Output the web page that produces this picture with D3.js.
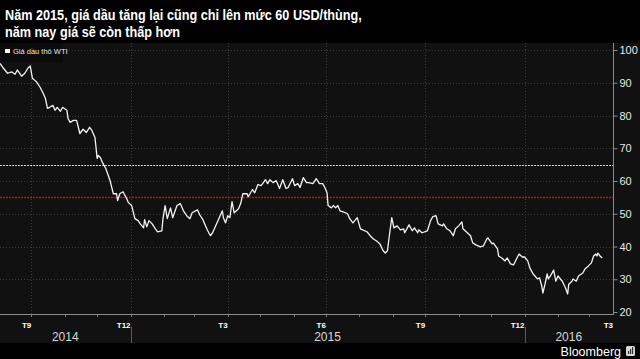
<!DOCTYPE html>
<html>
<head>
<meta charset="utf-8">
<script src="https://cdn.jsdelivr.net/npm/d3@7"></script>
<style>
    html, body { margin: 0; padding: 0; background: #000; }
    svg { display: block; }
    text { font-family: "Liberation Sans", Arial, sans-serif; }
</style>
</head>
<body>
<div id="chart"></div>
<script>
var titleLines = [
    'Năm 2015, giá dầu tăng lại cũng chỉ lên mức 60 USD/thùng,',
    'năm nay giá sẽ còn thấp hơn'
];
var legendLabel = 'Giá dầu thô WTI';
var quarterLabels = ['T9', 'T12', 'T3', 'T6', 'T9', 'T12', 'T3'];
var yearLabels = ['2014', '2015', '2016'];
var yTicks = [20, 30, 40, 50, 60, 70, 80, 90, 100];
var refLevels = [65, 55];

var dates = [
    '2014-09-02', '2014-09-05', '2014-09-09', '2014-09-13', '2014-09-16', '2014-09-18', '2014-09-22', '2014-09-25', '2014-09-28', '2014-09-30',
    '2014-10-02', '2014-10-04', '2014-10-06', '2014-10-09', '2014-10-12', '2014-10-14', '2014-10-16', '2014-10-18', '2014-10-21', '2014-10-23', '2014-10-25', '2014-10-28', '2014-10-30',
    '2014-11-03', '2014-11-04', '2014-11-06', '2014-11-09', '2014-11-12', '2014-11-15', '2014-11-18', '2014-11-21', '2014-11-24', '2014-11-26', '2014-11-29',
    '2014-12-01', '2014-12-02', '2014-12-04', '2014-12-06', '2014-12-09', '2014-12-11', '2014-12-13', '2014-12-16', '2014-12-19', '2014-12-20', '2014-12-22', '2014-12-25', '2014-12-28', '2014-12-30',
    '2015-01-02', '2015-01-05', '2015-01-08', '2015-01-10', '2015-01-13', '2015-01-14', '2015-01-16', '2015-01-18', '2015-01-21', '2015-01-24', '2015-01-26', '2015-01-30', '2015-01-31',
    '2015-02-02', '2015-02-04', '2015-02-07', '2015-02-09', '2015-02-13', '2015-02-16', '2015-02-19', '2015-02-22', '2015-02-25', '2015-02-27',
    '2015-03-04', '2015-03-06', '2015-03-09', '2015-03-13', '2015-03-16', '2015-03-18', '2015-03-22', '2015-03-25', '2015-03-27', '2015-03-28', '2015-03-30',
    '2015-04-01', '2015-04-03', '2015-04-05', '2015-04-07', '2015-04-11', '2015-04-13', '2015-04-15', '2015-04-19', '2015-04-20', '2015-04-24', '2015-04-26', '2015-04-29',
    '2015-05-02', '2015-05-04', '2015-05-06', '2015-05-08', '2015-05-10', '2015-05-13', '2015-05-16', '2015-05-19', '2015-05-22', '2015-05-25', '2015-05-27', '2015-05-31',
    '2015-06-02', '2015-06-05', '2015-06-07', '2015-06-10', '2015-06-13', '2015-06-15', '2015-06-19', '2015-06-22', '2015-06-25', '2015-06-28', '2015-06-30',
    '2015-07-02', '2015-07-03', '2015-07-06', '2015-07-08', '2015-07-10', '2015-07-12', '2015-07-14', '2015-07-17', '2015-07-21', '2015-07-23', '2015-07-26', '2015-07-30',
    '2015-08-02', '2015-08-04', '2015-08-08', '2015-08-11', '2015-08-14', '2015-08-17', '2015-08-20', '2015-08-23', '2015-08-25', '2015-08-27', '2015-08-29', '2015-08-31',
    '2015-09-02', '2015-09-05', '2015-09-08', '2015-09-11', '2015-09-12', '2015-09-16', '2015-09-19', '2015-09-21', '2015-09-24', '2015-09-25', '2015-09-28',
    '2015-10-03', '2015-10-06', '2015-10-08', '2015-10-11', '2015-10-13', '2015-10-17', '2015-10-18', '2015-10-21', '2015-10-24', '2015-10-27', '2015-10-29',
    '2015-11-01', '2015-11-04', '2015-11-05', '2015-11-09', '2015-11-12', '2015-11-14', '2015-11-17', '2015-11-21', '2015-11-24', '2015-11-27', '2015-11-28',
    '2015-12-02', '2015-12-03', '2015-12-07', '2015-12-08', '2015-12-11', '2015-12-14', '2015-12-16', '2015-12-19', '2015-12-22', '2015-12-25', '2015-12-27', '2015-12-30',
    '2016-01-01', '2016-01-04', '2016-01-06', '2016-01-09', '2016-01-13', '2016-01-15', '2016-01-17', '2016-01-18', '2016-01-20', '2016-01-22', '2016-01-23', '2016-01-25', '2016-01-28', '2016-01-30',
    '2016-02-01', '2016-02-05', '2016-02-08', '2016-02-10', '2016-02-11', '2016-02-14', '2016-02-15', '2016-02-18', '2016-02-20', '2016-02-24', '2016-02-26', '2016-02-29',
    '2016-03-03', '2016-03-05', '2016-03-07', '2016-03-08', '2016-03-09', '2016-03-11', '2016-03-13'
];

var prices = [
    95.9, 94.5, 92.9, 93.3, 92.6, 93.9, 92.0, 92.9, 94.5, 95.1,
    91.4, 90.8, 90.2, 88.7, 86.8, 85.3, 82.2, 82.5, 83.1, 81.6, 82.5, 81.3, 82.5,
    81.6, 79.1, 77.9, 78.5, 78.5, 74.5, 75.8, 74.8, 76.4, 75.5, 73.3,
    66.9, 67.8, 67.2, 65.6, 63.8, 62.0, 60.1, 56.1, 56.1, 54.0, 56.1, 56.7, 54.9, 53.4,
    52.5, 48.5, 47.9, 46.9, 45.7, 48.2, 46.0, 47.9, 46.9, 45.4, 44.5, 44.8, 48.5,
    52.5, 48.5, 51.8, 48.8, 52.5, 53.1, 50.9, 49.4, 48.5, 50.3,
    51.2, 49.7, 48.2, 45.1, 43.3, 44.2, 47.2, 49.4, 50.9, 48.8, 47.2,
    49.4, 48.8, 53.7, 50.3, 51.5, 53.1, 56.1, 56.1, 55.2, 57.4, 56.4, 58.9,
    58.6, 59.5, 60.4, 59.2, 60.4, 59.5, 60.1, 57.7, 60.4, 57.7, 58.0, 60.7,
    58.6, 59.2, 58.0, 61.0, 59.5, 59.5, 59.2, 60.7, 59.2, 59.2, 58.0,
    56.4, 52.5, 51.8, 52.5, 51.8, 52.5, 50.9, 50.6, 50.0, 48.5, 47.2, 48.8,
    45.4, 45.1, 44.5, 43.3, 42.3, 41.7, 40.8, 38.7, 38.0, 38.7, 43.9, 48.8,
    45.7, 46.3, 45.1, 45.4, 44.2, 46.6, 44.8, 45.7, 44.2, 45.1, 44.2,
    44.8, 47.9, 49.1, 49.4, 46.9, 46.3, 46.9, 45.4, 44.8, 43.3, 45.4,
    46.3, 47.5, 45.4, 44.2, 43.3, 41.1, 40.5, 39.9, 40.2, 42.3, 42.6,
    40.8, 41.1, 39.3, 37.1, 36.5, 35.6, 36.5, 34.7, 34.4, 36.5, 37.7, 36.8,
    36.8, 35.6, 33.4, 31.6, 30.1, 30.4, 27.9, 25.8, 28.5, 31.6, 30.1, 31.0, 32.8, 29.4,
    31.0, 29.4, 27.3, 25.5, 28.5, 29.4, 30.1, 29.4, 31.0, 31.9, 33.1, 34.0,
    35.0, 37.1, 37.7, 37.1, 38.0, 37.1, 36.5
];


function OilChart() {
    this.config = {
        width: 640,
        height: 359,
        panel: { top: 43, bottom: 343 },
        plot: { left: 0, right: 613, top: 50, bottom: 312, axisY: 314 },
        colors: {
            panel: '#111111',
            grid: '#3d3d3d',
            axis: '#8a8a8a',
            line: '#f4f4f4',
            text: '#e8e8e8',
            refWhite: '#d4d4d4',
            refRed: '#b0141c'
        }
    };
    this.svg = null;
    this.x = null;
    this.y = null;
    this.series = [];
}

OilChart.prototype.init = function(element) {
    var c = this.config,
        parse = d3.timeParse('%Y-%m-%d');
    this.svg = d3.select(element).append('svg')
        .attr('width', c.width)
        .attr('height', c.height);
    this.x = d3.scaleTime()
        .domain([new Date(2014, 8, 2), new Date(2016, 2, 23)])
        .range([c.plot.left, c.plot.right]);
    this.y = d3.scaleLinear()
        .domain([20, 100])
        .range([c.plot.bottom, c.plot.top]);
    this.series = dates.map(function(d, i) {
        return { date: parse(d), value: prices[i] };
    });
};

OilChart.prototype.draw = function() {
    this.drawBackground();
    this.drawGrid();
    this.drawRefLines();
    this.drawLine();
    this.drawLegend();
    this.drawYAxis();
    this.drawXAxis();
    this.drawTitle();
    this.drawFooter();
};



// parts

OilChart.prototype.drawBackground = function() {
    var c = this.config;
    this.svg.append('rect')
        .attr('width', c.width).attr('height', c.height)
        .attr('fill', '#000');
    this.svg.append('rect')
        .attr('x', 0).attr('y', c.panel.top)
        .attr('width', c.width).attr('height', c.panel.bottom - c.panel.top)
        .attr('fill', c.colors.panel);
};

OilChart.prototype.drawGrid = function() {
    var self = this,
        c = this.config,
        g = this.svg.append('g').attr('class', 'grid');
    g.selectAll('.h').data(yTicks.slice(1)).enter().append('line')
        .attr('x1', c.plot.left).attr('x2', c.plot.right)
        .attr('y1', function(d) { return Math.round(self.y(d)) + 0.5; })
        .attr('y2', function(d) { return Math.round(self.y(d)) + 0.5; })
        .attr('stroke', c.colors.grid)
        .attr('stroke-dasharray', '1,2');
    g.selectAll('.v').data(this.x.ticks(d3.timeMonth.every(3))).enter().append('line')
        .attr('x1', function(d) { return Math.round(self.x(d)) + 0.5; })
        .attr('x2', function(d) { return Math.round(self.x(d)) + 0.5; })
        .attr('y1', c.panel.top).attr('y2', c.plot.axisY)
        .attr('stroke', c.colors.grid)
        .attr('stroke-dasharray', '1,2');
};

OilChart.prototype.drawRefLines = function() {
    var self = this,
        c = this.config,
        g = this.svg.append('g').attr('class', 'refs');
    // 65 USD in white, 55 USD in red
    g.append('line')
        .attr('x1', c.plot.left).attr('x2', c.plot.right)
        .attr('y1', Math.round(this.y(refLevels[0])) + 0.5)
        .attr('y2', Math.round(this.y(refLevels[0])) + 0.5)
        .attr('stroke', c.colors.refWhite)
        .attr('stroke-width', 1)
        .attr('stroke-dasharray', '2,1');
    g.append('line')
        .attr('x1', c.plot.left).attr('x2', c.plot.right)
        .attr('y1', Math.round(self.y(refLevels[1])) + 0.5)
        .attr('y2', Math.round(self.y(refLevels[1])) + 0.5)
        .attr('stroke', c.colors.refRed)
        .attr('stroke-width', 1.4)
        .attr('stroke-dasharray', '2,1');
};

OilChart.prototype.drawLine = function() {
    var self = this,
        line = d3.line()
            .x(function(d) { return self.x(d.date); })
            .y(function(d) { return self.y(d.value); });
    this.svg.append('path')
        .datum(this.series)
        .attr('d', line)
        .attr('fill', 'none')
        .attr('stroke', this.config.colors.line)
        .attr('stroke-width', 1.3)
        .attr('stroke-linejoin', 'round');
};

OilChart.prototype.drawLegend = function() {
    var c = this.config,
        g = this.svg.append('g').attr('class', 'legend');
    g.append('rect')
        .attr('x', 0).attr('y', c.panel.top)
        .attr('width', 63).attr('height', 19)
        .attr('fill', '#0b0b0b');
    g.append('rect')
        .attr('x', 5).attr('y', 49)
        .attr('width', 5).attr('height', 4)
        .attr('fill', '#fff');
    g.append('text')
        .attr('x', 13).attr('y', 54)
        .attr('font-size', 7.5)
        .attr('fill', c.colors.text)
        .text(legendLabel);
};

OilChart.prototype.drawYAxis = function() {
    var c = this.config,
        g = this.svg.append('g')
            .attr('transform', 'translate(' + (c.plot.right + 0.5) + ',0)');
    g.call(d3.axisRight(this.y).tickValues(d3.range(25, 100, 10)).tickSize(2).tickFormat(''));
    g.call(d3.axisRight(this.y).tickValues(yTicks).tickSize(4).tickPadding(2));
    g.selectAll('.domain').remove();
    g.selectAll('.tick line').attr('stroke', c.colors.axis);
    g.selectAll('.tick text')
        .attr('fill', c.colors.text)
        .attr('font-size', 11)
        .attr('font-family', '"Liberation Sans", Arial, sans-serif');
    g.append('line')
        .attr('y1', c.panel.top).attr('y2', c.plot.axisY)
        .attr('stroke', c.colors.axis);
};

OilChart.prototype.drawXAxis = function() {
    var self = this,
        c = this.config,
        g = this.svg.append('g').attr('class', 'x-axis'),
        quarters = d3.timeMonth.every(3).range(new Date(2014, 9, 1), new Date(2016, 4, 1)),
        yearStarts = [new Date(2014, 0, 1), new Date(2015, 0, 1), new Date(2016, 0, 1), new Date(2017, 0, 1)];

    g.append('line')
        .attr('x1', c.plot.left).attr('x2', c.plot.right + 1)
        .attr('y1', c.plot.axisY + 0.5).attr('y2', c.plot.axisY + 0.5)
        .attr('stroke', c.colors.axis);

    g.selectAll('.minor').data(this.x.ticks(d3.timeMonth.every(1))).enter().append('line')
        .attr('x1', function(d) { return Math.round(self.x(d)) + 0.5; })
        .attr('x2', function(d) { return Math.round(self.x(d)) + 0.5; })
        .attr('y1', c.plot.axisY + 1).attr('y2', c.plot.axisY + 3)
        .attr('stroke', '#777');

    g.selectAll('.q').data(quarters).enter().append('text')
        .attr('x', function(d) { return Math.min(self.x(d), c.plot.right); })
        .attr('y', 328)
        .attr('text-anchor', 'end')
        .attr('font-size', 8)
        .attr('font-weight', 'bold')
        .attr('fill', '#fff')
        .text(function(d, i) { return quarterLabels[i]; });

    g.selectAll('.sep').data(yearStarts.slice(1, 3)).enter().append('line')
        .attr('x1', function(d) { return Math.round(self.x(d)) + 0.5; })
        .attr('x2', function(d) { return Math.round(self.x(d)) + 0.5; })
        .attr('y1', 327).attr('y2', c.panel.bottom)
        .attr('stroke', '#5a5a5a');

    g.selectAll('.year').data(yearLabels).enter().append('text')
        .attr('x', function(d, i) {
            var a = Math.max(self.x(yearStarts[i]), c.plot.left),
                b = Math.min(self.x(yearStarts[i + 1]), c.plot.right);
            return (a + b) / 2;
        })
        .attr('y', 341)
        .attr('text-anchor', 'middle')
        .attr('font-size', 12)
        .attr('fill', '#d6d6d6')
        .text(function(d) { return d; });
};

OilChart.prototype.drawTitle = function() {
    var g = this.svg.append('g').attr('transform', 'translate(5,0)'),
        w, k;
    g.selectAll('text').data(titleLines).enter().append('text')
        .attr('x', 0)
        .attr('y', function(d, i) { return 20 + i * 17.5; })
        .attr('font-size', 14.5)
        .attr('font-weight', 'bold')
        .attr('fill', '#fff')
        .text(function(d) { return d; });
    // squeeze to the condensed width of the original face
    w = g.select('text').node().getComputedTextLength();
    k = 357 / w;
    g.attr('transform', 'translate(5,0) scale(' + k + ',1)');
};

OilChart.prototype.drawFooter = function() {
    var g = this.svg.append('g').attr('class', 'footer');
    g.append('text')
        .attr('x', 621).attr('y', 356)
        .attr('text-anchor', 'end')
        .attr('font-size', 12.5)
        .attr('fill', '#fff')
        .text('Bloomberg');
    g.append('rect')
        .attr('x', 626).attr('y', 346)
        .attr('width', 9).attr('height', 10).attr('rx', 1.5)
        .attr('fill', '#d8d8d8');
    g.selectAll('.bar').data([3, 5, 7]).enter().append('rect')
        .attr('x', function(d, i) { return 628 + i * 2; })
        .attr('y', function(d) { return 354 - d; })
        .attr('width', 1.2)
        .attr('height', function(d) { return d; })
        .attr('fill', '#333');
};


var chart = new OilChart();
chart.init('#chart');
chart.draw();
</script>
</body>
</html>
